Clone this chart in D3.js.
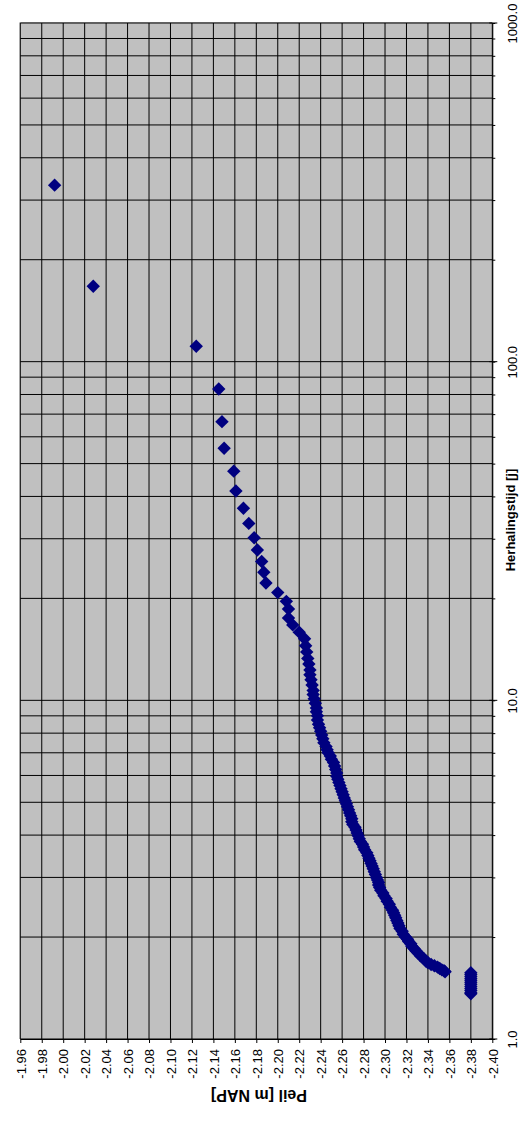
<!DOCTYPE html>
<html>
<head>
<meta charset="utf-8">
<script src="https://cdn.jsdelivr.net/npm/d3@7"></script>
<style>
  body { margin: 0; background: #ffffff; }
  svg text { font-family: "Liberation Sans", Arial, sans-serif; fill: #000; }
</style>
</head>
<body>
<svg id="chart" width="522" height="1122"></svg>
<script>
// Peil-as (horizontaal in de gedraaide grafiek)
const peilTicks = [-1.96, -1.98, -2.00, -2.02, -2.04, -2.06, -2.08, -2.10, -2.12, -2.14, -2.16, -2.18,
                   -2.20, -2.22, -2.24, -2.26, -2.28, -2.30, -2.32, -2.34, -2.36, -2.38, -2.40];
// Herhalingstijd-as (log, verticaal)
const tijdLabels = [1, 10, 100, 1000];

// [herhalingstijd (j), peil (m NAP)]
const hoogstePunten = [
  [332, -1.992], [167, -2.028], [111, -2.124], [83, -2.145], [66.5, -2.148],
  [55.5, -2.150], [47.5, -2.159], [41.5, -2.161], [36.9, -2.168], [33.3, -2.173],
  [30.2, -2.178], [27.8, -2.181], [25.7, -2.185], [23.9, -2.187], [22.2, -2.189],
  [20.8, -2.200], [19.6, -2.208], [18.6, -2.210], [17.5, -2.210]
];

const bandPunten = [
  [16.7, -2.214], [15.9, -2.220], [15.2, -2.225], [14.5, -2.226], [13.9, -2.227],
  [13.3, -2.228], [12.8, -2.229], [12.3, -2.230], [11.9, -2.230], [11.5, -2.231],
  [11.1, -2.232], [10.7, -2.233], [10.4, -2.233], [10.1, -2.234], [9.8, -2.235],
  [9.5, -2.236], [9.25, -2.236], [9.0, -2.237], [8.75, -2.237], [8.5, -2.238],
  [8.3, -2.239], [8.1, -2.240], [7.9, -2.241], [7.7, -2.242], [7.5, -2.243],
  [7.3, -2.245], [7.15, -2.246], [7.0, -2.247], [6.85, -2.249], [6.7, -2.250],
  [6.55, -2.252], [6.4, -2.253], [6.25, -2.254], [6.1, -2.255], [5.97, -2.255],
  [5.85, -2.256], [5.72, -2.257], [5.6, -2.258], [5.48, -2.259], [5.37, -2.260],
  [5.26, -2.261], [5.15, -2.262], [5.05, -2.263], [4.95, -2.264], [4.85, -2.265],
  [4.75, -2.266], [4.65, -2.267], [4.56, -2.268], [4.47, -2.269], [4.38, -2.269],
  [4.3, -2.270], [4.22, -2.272], [4.14, -2.273], [4.06, -2.274], [3.98, -2.275],
  [3.9, -2.276], [3.83, -2.277], [3.76, -2.279], [3.69, -2.280], [3.62, -2.281],
  [3.55, -2.283], [3.48, -2.284], [3.42, -2.285], [3.36, -2.286], [3.3, -2.287],
  [3.24, -2.288], [3.18, -2.289], [3.12, -2.290], [3.06, -2.291], [3.0, -2.292],
  [2.95, -2.293], [2.9, -2.294], [2.85, -2.294], [2.8, -2.295], [2.75, -2.296],
  [2.7, -2.298], [2.65, -2.299], [2.6, -2.301], [2.55, -2.302], [2.5, -2.304],
  [2.45, -2.305], [2.4, -2.307], [2.36, -2.308], [2.32, -2.309], [2.28, -2.310],
  [2.24, -2.311], [2.2, -2.312], [2.16, -2.313], [2.12, -2.314], [2.08, -2.316],
  [2.04, -2.317], [2.0, -2.319], [1.97, -2.321], [1.94, -2.322], [1.91, -2.324],
  [1.88, -2.325], [1.85, -2.327], [1.82, -2.329], [1.79, -2.331], [1.76, -2.333],
  [1.73, -2.336], [1.7, -2.338], [1.68, -2.340], [1.66, -2.343], [1.645, -2.346],
  [1.63, -2.349], [1.615, -2.351], [1.6, -2.353], [1.59, -2.355], [1.58, -2.356]
];

const laagstePunten = [
  [1.57, -2.38], [1.55, -2.38], [1.53, -2.38], [1.51, -2.38], [1.49, -2.38], [1.47, -2.38],
  [1.45, -2.38], [1.43, -2.38], [1.41, -2.38], [1.39, -2.38], [1.37, -2.38], [1.36, -2.38]
];

const plot = {left: 20.3, right: 492.3, top: 23, bottom: 1039};

const svg = d3.select("#chart");

const x = d3.scaleLinear().domain([-1.96, -2.40]).range([plot.left, plot.right]);
const y = d3.scaleLog().domain([1, 1000]).range([plot.bottom, plot.top]);

// achtergrond plotgebied
svg.append("rect")
    .attr("x", 19.3).attr("y", 22)
    .attr("width", plot.right - 19.3).attr("height", plot.bottom - 22)
    .attr("fill", "#c0c0c0");

// rasterlijnen
let grid = svg.append("g").attr("stroke", "#000").attr("stroke-width", 1);
grid.selectAll(".vgrid").data(peilTicks).join("line").attr("class", "vgrid")
    .attr("x1", d => x(d)).attr("x2", d => x(d))
    .attr("y1", plot.top).attr("y2", plot.bottom);
grid.selectAll(".hgrid").data(y.ticks()).join("line").attr("class", "hgrid")
    .attr("x1", plot.left).attr("x2", plot.right)
    .attr("y1", d => y(d)).attr("y2", d => y(d));

// markers (ruit)
const ruit = "M0,-6.7L6.7,0L0,6.7L-6.7,0Z";
const allePunten = hoogstePunten.concat(bandPunten, laagstePunten);
svg.append("g").selectAll("path").data(allePunten).join("path")
    .attr("d", ruit)
    .attr("transform", d => `translate(${x(d[1])},${y(d[0])})`)
    .attr("fill", "#000080");

// peil-as onder
let xAxis = d3.axisBottom(x).tickValues(peilTicks).tickSize(4).tickSizeOuter(0)
    .tickFormat(d => d.toFixed(2));
let xg = svg.append("g").attr("transform", `translate(0,${plot.bottom})`).call(xAxis);
xg.select(".domain").attr("stroke", "#000");
xg.selectAll(".tick line").attr("stroke", "#000");
xg.selectAll(".tick text")
    .attr("y", null).attr("dy", null)
    .attr("text-anchor", "end")
    .attr("font-size", 13)
    .attr("transform", "translate(4.7,10) rotate(-90)");

// herhalingstijd-as rechts
let isLabel = d => tijdLabels.some(v => Math.abs(v - d) < 1e-6);
let yAxis = d3.axisRight(y).tickValues(y.ticks()).tickSize(3).tickSizeOuter(0)
    .tickFormat(d => isLabel(d) ? d3.format(".1f")(d) : "");
let yg = svg.append("g").attr("transform", `translate(${plot.right},0)`).call(yAxis);
yg.select(".domain").attr("stroke", "#000");
yg.selectAll(".tick line").attr("stroke", "#000");
yg.selectAll(".tick text")
    .attr("x", null).attr("dy", null)
    .attr("text-anchor", "middle")
    .attr("font-size", 13)
    .attr("transform", "translate(25,0) rotate(-90)");
// hoofdstreepjes kruisen de as
yg.selectAll(".major").data(tijdLabels).join("line").attr("class", "major")
    .attr("x1", -3).attr("x2", 5)
    .attr("y1", d => y(d)).attr("y2", d => y(d))
    .attr("stroke", "#000");

// astitels
svg.append("text")
    .attr("transform", "translate(515,520) rotate(-90)")
    .attr("text-anchor", "middle")
    .attr("font-size", 13).attr("font-weight", "bold")
    .text("Herhalingstijd [j]");

svg.append("text")
    .attr("transform", "translate(259,1090) rotate(180)")
    .attr("text-anchor", "middle")
    .attr("font-size", 16).attr("font-weight", "bold")
    .text("Peil [m NAP]");
</script>
</body>
</html>
